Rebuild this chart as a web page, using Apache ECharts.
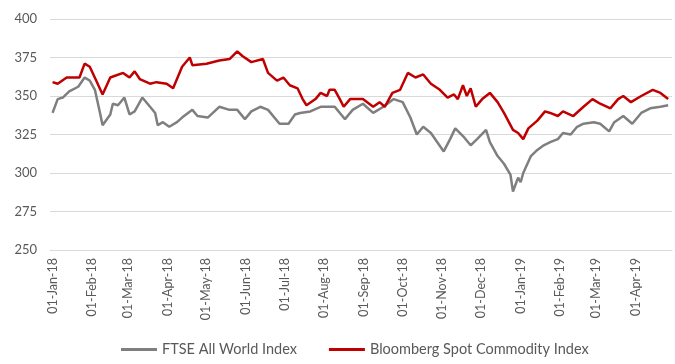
<!DOCTYPE html>
<html>
<head>
<meta charset="utf-8">
<script src="https://cdn.jsdelivr.net/npm/echarts@6/dist/echarts.min.js"></script>
<style>
html,body{margin:0;padding:0;background:#fff;}
#chart{width:675px;height:364px;}
</style>
</head>
<body>
<div id="chart"></div>
<script>
// Tick labels (month starts) on the x axis
var monthStarts = ['2018-01-01','2018-02-01','2018-03-01','2018-04-01','2018-05-01','2018-06-01','2018-07-01','2018-08-01','2018-09-01','2018-10-01','2018-11-01','2018-12-01','2019-01-01','2019-02-01','2019-03-01','2019-04-01'];
var monthLabels = ['01-Jan-18','01-Feb-18','01-Mar-18','01-Apr-18','01-May-18','01-Jun-18','01-Jul-18','01-Aug-18','01-Sep-18','01-Oct-18','01-Nov-18','01-Dec-18','01-Jan-19','01-Feb-19','01-Mar-19','01-Apr-19'];
var yTicks = [250, 275, 300, 325, 350, 375, 400];

// FTSE All World Index
var ftseDates = ['2018-01-01','2018-01-05','2018-01-09','2018-01-14','2018-01-21','2018-01-26','2018-01-30','2018-02-03','2018-02-07','2018-02-09','2018-02-15','2018-02-17','2018-02-21','2018-02-26','2018-03-02','2018-03-06','2018-03-12','2018-03-18','2018-03-22','2018-03-24','2018-03-28','2018-04-02','2018-04-08','2018-04-12','2018-04-20','2018-04-24','2018-05-02','2018-05-06','2018-05-11','2018-05-19','2018-05-25','2018-05-31','2018-06-05','2018-06-12','2018-06-18','2018-06-27','2018-07-04','2018-07-09','2018-07-13','2018-07-21','2018-07-29','2018-08-05','2018-08-09','2018-08-11','2018-08-13','2018-08-17','2018-08-23','2018-08-31','2018-09-08','2018-09-16','2018-09-24','2018-10-01','2018-10-07','2018-10-12','2018-10-17','2018-10-23','2018-10-28','2018-11-02','2018-11-07','2018-11-11','2018-11-17','2018-11-23','2018-11-28','2018-12-05','2018-12-08','2018-12-14','2018-12-19','2018-12-24','2018-12-26','2018-12-30','2019-01-01','2019-01-03','2019-01-09','2019-01-14','2019-01-19','2019-01-24','2019-01-30','2019-02-03','2019-02-09','2019-02-14','2019-02-19','2019-02-27','2019-03-04','2019-03-11','2019-03-15','2019-03-22','2019-03-29','2019-04-05','2019-04-12','2019-04-20','2019-04-26'];
var ftseValues = [339,348,349,353,356,362,360,354,339,331,338,345,344,349,338,340,349,343,339,331,333,330,333,336,341,337,336,339,343,341,341,335,340,343,341,332,332,338,339,340,343,343,343,341,339,335,341,345,339,343,348,346,336,325,330,326,320,314,322,329,324,318,322,328,320,311,306,299,288,297,294,300,311,315,318,320,322,326,325,330,332,333,332,327,333,337,332,339,342,343,344];

// Bloomberg Spot Commodity Index
var bbgDates = ['2018-01-01','2018-01-05','2018-01-12','2018-01-22','2018-01-26','2018-01-30','2018-02-04','2018-02-09','2018-02-15','2018-02-25','2018-03-02','2018-03-06','2018-03-10','2018-03-18','2018-03-23','2018-03-31','2018-04-05','2018-04-12','2018-04-18','2018-04-20','2018-05-01','2018-05-11','2018-05-19','2018-05-25','2018-05-29','2018-06-05','2018-06-14','2018-06-18','2018-06-25','2018-06-30','2018-07-05','2018-07-11','2018-07-15','2018-07-18','2018-07-25','2018-07-29','2018-08-03','2018-08-05','2018-08-09','2018-08-13','2018-08-16','2018-08-21','2018-08-31','2018-09-08','2018-09-13','2018-09-17','2018-09-23','2018-09-29','2018-10-05','2018-10-11','2018-10-17','2018-10-23','2018-10-30','2018-11-05','2018-11-10','2018-11-13','2018-11-17','2018-11-20','2018-11-23','2018-11-27','2018-12-02','2018-12-08','2018-12-14','2018-12-19','2018-12-26','2018-12-30','2019-01-03','2019-01-07','2019-01-14','2019-01-20','2019-01-24','2019-01-30','2019-02-03','2019-02-11','2019-02-19','2019-02-26','2019-03-04','2019-03-12','2019-03-18','2019-03-22','2019-03-28','2019-04-05','2019-04-14','2019-04-20','2019-04-26'];
var bbgValues = [359,358,362,362,371,369,360,351,362,365,362,366,361,358,359,358,355,369,375,370,371,373,374,379,376,372,374,365,360,362,357,355,348,344,348,352,350,354,354,348,343,348,348,343,346,343,352,354,365,362,364,358,354,349,351,348,357,350,355,343,348,352,346,339,328,326,322,329,334,340,339,337,340,337,343,348,345,342,348,350,346,350,354,352,348];

var DAY = 86400000;
function ts(s) { return Date.UTC(+s.slice(0, 4), +s.slice(5, 7) - 1, +s.slice(8, 10)); }
function pairs(dates, vals) {
  return dates.map(function (d, i) { return [ts(d), vals[i]]; });
}
var tickValues = monthStarts.map(ts);

var chart = echarts.init(document.getElementById('chart'), null, {renderer: 'canvas'});
var FONT = 'Lato';
chart.setOption({
  animation: false,
  backgroundColor: '#ffffff',
  grid: {left: 50, right: 3, top: 19, bottom: 114, containLabel: false},
  legend: {
    bottom: 2,
    left: 116,
    itemWidth: 36,
    itemHeight: 3,
    itemGap: 32,
    icon: 'rect',
    textStyle: {fontFamily: FONT, fontSize: 14.5, color: '#595959'},
    data: ['FTSE All World Index', 'Bloomberg Spot Commodity Index']
  },
  xAxis: {
    type: 'value',
    min: ts('2017-12-30'),
    max: ts('2019-04-29'),
    axisLine: {show: true, onZero: false, lineStyle: {color: '#d9d9d9', width: 1}},
    axisTick: {show: false},
    splitLine: {show: false},
    axisLabel: {
      customValues: tickValues,
      rotate: 90,
      margin: 8,
      fontFamily: FONT,
      fontSize: 12.5,
      color: '#595959',
      formatter: function (val) {
        var i = tickValues.indexOf(val);
        if (i < 0) {
          for (var k = 0; k < tickValues.length; k++) if (Math.abs(tickValues[k] - val) < DAY / 2) i = k;
        }
        return i >= 0 ? monthLabels[i] : '';
      }
    }
  },
  yAxis: {
    type: 'value',
    min: yTicks[0],
    max: yTicks[yTicks.length - 1],
    interval: 25,
    axisLine: {show: false},
    axisTick: {show: false},
    splitLine: {lineStyle: {color: '#d9d9d9', width: 1}},
    axisLabel: {fontFamily: FONT, fontSize: 13, color: '#595959', margin: 13}
  },
  series: [
    {
      name: 'FTSE All World Index',
      type: 'line',
      data: pairs(ftseDates, ftseValues),
      showSymbol: false,
      symbol: 'none',
      lineStyle: {color: '#7f7f7f', width: 2.5},
      itemStyle: {color: '#7f7f7f'}
    },
    {
      name: 'Bloomberg Spot Commodity Index',
      type: 'line',
      data: pairs(bbgDates, bbgValues),
      showSymbol: false,
      symbol: 'none',
      lineStyle: {color: '#c00000', width: 2.5},
      itemStyle: {color: '#c00000'}
    }
  ]
});
</script>
</body>
</html>
